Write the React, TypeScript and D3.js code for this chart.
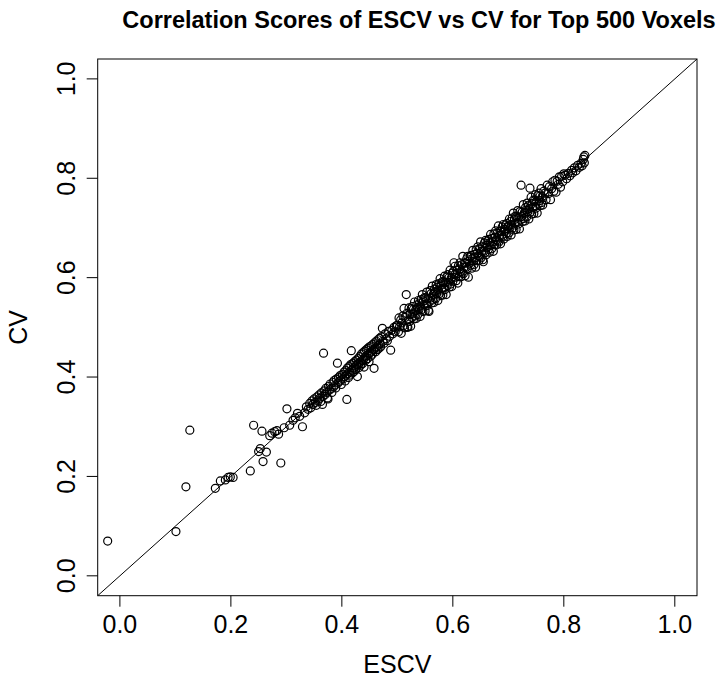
import React from "react";
import * as d3 from "d3";

const title = "Correlation Scores of ESCV vs CV for Top 500 Voxels";
const xLabel = "ESCV";
const yLabel = "CV";
const tickValues = [0, 0.2, 0.4, 0.6, 0.8, 1.0];

const escvLow = [-0.022, 0.101, 0.119, 0.126, 0.172, 0.181, 0.190, 0.195, 0.199, 0.204, 0.235, 0.241, 0.250, 0.253, 0.264, 0.256, 0.258, 0.270, 0.274, 0.279, 0.283, 0.290, 0.301, 0.306, 0.312, 0.320, 0.329, 0.286, 0.296, 0.316, 0.324];
const cvLow = [0.070, 0.089, 0.179, 0.293, 0.176, 0.191, 0.193, 0.198, 0.199, 0.198, 0.211, 0.303, 0.250, 0.256, 0.249, 0.291, 0.230, 0.282, 0.287, 0.290, 0.292, 0.227, 0.336, 0.303, 0.313, 0.327, 0.300, 0.285, 0.298, 0.318, 0.321];

const escvMid = [
  0.333, 0.336, 0.339, 0.342, 0.344, 0.346, 0.348, 0.350, 0.352, 0.354, 0.355, 0.357, 0.359, 0.360, 0.362, 0.363, 0.365, 0.366, 0.367, 0.368, 0.370, 0.371, 0.373, 0.374, 0.375, 0.376, 0.378, 0.379, 0.381, 0.382, 0.384, 0.385, 0.386, 0.388, 0.389, 0.390, 0.392, 0.393, 0.394, 0.395, 0.397, 0.398, 0.399,
  0.401, 0.402, 0.404, 0.405, 0.406, 0.407, 0.408, 0.409, 0.410, 0.411, 0.412, 0.413, 0.414, 0.415, 0.416, 0.417, 0.418, 0.419, 0.420, 0.421, 0.422, 0.423, 0.424, 0.425, 0.426, 0.427, 0.428, 0.429, 0.430, 0.431, 0.432, 0.433, 0.434, 0.435, 0.436, 0.437, 0.438, 0.439, 0.440, 0.441, 0.442, 0.443, 0.444, 0.445, 0.446, 0.447, 0.448, 0.449, 0.450, 0.451, 0.452, 0.453, 0.454, 0.455, 0.456, 0.457, 0.458, 0.459, 0.460, 0.461, 0.462, 0.463, 0.464, 0.465, 0.466, 0.467, 0.468, 0.469, 0.470, 0.471, 0.473, 0.474, 0.476, 0.478, 0.480, 0.482, 0.484, 0.486, 0.488, 0.490, 0.492, 0.494, 0.496, 0.498
];
const cvMid = [
  0.328, 0.340, 0.335, 0.347, 0.338, 0.352, 0.345, 0.356, 0.349, 0.343, 0.360, 0.352, 0.364, 0.357, 0.351, 0.368, 0.345, 0.361, 0.448, 0.372, 0.365, 0.377, 0.369, 0.358, 0.356, 0.381, 0.374, 0.386, 0.377, 0.369, 0.389, 0.380, 0.393, 0.384, 0.378, 0.396, 0.428, 0.388, 0.399, 0.391, 0.403, 0.394, 0.385,
  0.405, 0.396, 0.410, 0.401, 0.392, 0.413, 0.404, 0.355, 0.418, 0.407, 0.399, 0.421, 0.410, 0.404, 0.425, 0.453, 0.414, 0.408, 0.428, 0.418, 0.411, 0.431, 0.420, 0.415, 0.434, 0.424, 0.401, 0.437, 0.427, 0.419, 0.441, 0.430, 0.424, 0.446, 0.433, 0.427, 0.449, 0.436, 0.420, 0.452, 0.440, 0.434, 0.455, 0.443, 0.437, 0.458, 0.446, 0.431, 0.461, 0.449, 0.442, 0.463, 0.452, 0.446, 0.466, 0.455, 0.4175, 0.469, 0.458, 0.451, 0.472, 0.461, 0.455, 0.475, 0.464, 0.458, 0.478, 0.467, 0.461, 0.481, 0.498, 0.472, 0.468, 0.487, 0.477, 0.473, 0.492, 0.482, 0.454, 0.494, 0.487, 0.500, 0.491, 0.503
];

const escvUpper = [
  0.500, 0.502, 0.503, 0.504, 0.506, 0.507, 0.508, 0.510, 0.511, 0.512, 0.513, 0.514, 0.516, 0.517, 0.518, 0.519, 0.520, 0.521, 0.522, 0.523, 0.524, 0.525, 0.526, 0.527, 0.528, 0.529, 0.530, 0.531, 0.532, 0.533, 0.534, 0.535, 0.536, 0.537, 0.538, 0.539, 0.540, 0.541, 0.542, 0.543, 0.544, 0.545, 0.546, 0.547, 0.548, 0.549, 0.550, 0.551, 0.552, 0.553, 0.554, 0.555, 0.556, 0.557, 0.558, 0.559, 0.560, 0.561, 0.562, 0.563, 0.564, 0.565, 0.566, 0.567, 0.568, 0.569, 0.570, 0.571, 0.572, 0.573, 0.574, 0.575, 0.576, 0.577, 0.578, 0.579, 0.580, 0.581, 0.582, 0.583, 0.584, 0.585, 0.586, 0.587, 0.588, 0.589, 0.590, 0.591, 0.592, 0.593, 0.594, 0.595, 0.596, 0.597, 0.598, 0.599,
  0.600, 0.601, 0.602, 0.603, 0.604, 0.605, 0.606, 0.607, 0.608, 0.609, 0.610, 0.611, 0.612, 0.613, 0.614, 0.615, 0.616, 0.617, 0.618, 0.619, 0.620, 0.621, 0.622, 0.623, 0.624, 0.625, 0.626, 0.627, 0.628, 0.629, 0.630, 0.631, 0.632, 0.633, 0.634, 0.635, 0.636, 0.637, 0.638, 0.639, 0.640, 0.641, 0.642, 0.643, 0.644, 0.645, 0.646, 0.647, 0.648, 0.649, 0.650, 0.651, 0.652, 0.653, 0.654, 0.655, 0.656, 0.657, 0.658, 0.659, 0.660, 0.661, 0.662, 0.663, 0.664, 0.665, 0.666, 0.667, 0.668, 0.669, 0.670, 0.671, 0.672, 0.673, 0.674, 0.675, 0.676, 0.677, 0.678, 0.679, 0.680, 0.681, 0.682, 0.683, 0.684, 0.685, 0.686, 0.687, 0.688, 0.689, 0.690, 0.691, 0.692, 0.693, 0.694, 0.695, 0.696, 0.697, 0.698, 0.699
];
const cvUpper = [
  0.504, 0.491, 0.519, 0.501, 0.515, 0.488, 0.509, 0.523, 0.503, 0.538, 0.499, 0.520, 0.566, 0.528, 0.501, 0.500, 0.515, 0.539, 0.512, 0.526, 0.502, 0.537, 0.520, 0.542, 0.527, 0.536, 0.517, 0.551, 0.523, 0.535, 0.518, 0.545, 0.540, 0.526, 0.554, 0.536, 0.549, 0.522, 0.543, 0.556, 0.536, 0.566, 0.532, 0.553, 0.546, 0.560, 0.533, 0.559, 0.547, 0.571, 0.544, 0.558, 0.534, 0.532, 0.552, 0.574, 0.559, 0.568, 0.549, 0.583, 0.555, 0.567, 0.550, 0.577, 0.572, 0.558, 0.586, 0.568, 0.581, 0.554, 0.575, 0.588, 0.568, 0.598, 0.564, 0.585, 0.578, 0.592, 0.565, 0.591, 0.579, 0.603, 0.576, 0.590, 0.566, 0.601, 0.584, 0.606, 0.591, 0.600, 0.581, 0.615, 0.587, 0.599, 0.582, 0.609,
  0.593, 0.613, 0.630, 0.606, 0.623, 0.601, 0.594, 0.615, 0.608, 0.589, 0.624, 0.602, 0.617, 0.630, 0.612, 0.602, 0.626, 0.611, 0.643, 0.608, 0.621, 0.630, 0.604, 0.629, 0.621, 0.638, 0.618, 0.643, 0.601, 0.633, 0.629, 0.642, 0.625, 0.645, 0.619, 0.638, 0.655, 0.633, 0.626, 0.647, 0.640, 0.621, 0.656, 0.634, 0.649, 0.662, 0.644, 0.634, 0.658, 0.643, 0.672, 0.640, 0.653, 0.662, 0.636, 0.632, 0.653, 0.670, 0.650, 0.675, 0.646, 0.665, 0.661, 0.674, 0.657, 0.677, 0.651, 0.670, 0.687, 0.665, 0.658, 0.679, 0.672, 0.653, 0.688, 0.666, 0.681, 0.694, 0.676, 0.666, 0.690, 0.675, 0.704, 0.672, 0.685, 0.694, 0.668, 0.693, 0.685, 0.702, 0.682, 0.707, 0.678, 0.697, 0.693, 0.706, 0.689, 0.709, 0.683, 0.702
];

const escvTop = [
  0.700, 0.701, 0.702, 0.703, 0.704, 0.705, 0.706, 0.707, 0.708, 0.709, 0.710, 0.711, 0.712, 0.713, 0.714, 0.715, 0.716, 0.717, 0.718, 0.719, 0.720, 0.721, 0.722, 0.723, 0.724, 0.725, 0.726, 0.727, 0.728, 0.729, 0.730, 0.731, 0.732, 0.733, 0.734, 0.735, 0.736, 0.737, 0.738, 0.739, 0.740, 0.741, 0.742, 0.743, 0.744, 0.745, 0.746, 0.747, 0.748, 0.749, 0.750, 0.751, 0.752, 0.753, 0.754, 0.755, 0.756, 0.757, 0.758, 0.759, 0.760, 0.761, 0.762, 0.764, 0.766, 0.768, 0.770, 0.772, 0.774, 0.776, 0.778, 0.780, 0.782, 0.784, 0.786, 0.788, 0.790, 0.792, 0.794, 0.796, 0.798, 0.800,
  0.802, 0.805, 0.808, 0.811, 0.814, 0.816, 0.819, 0.822, 0.825, 0.828, 0.831, 0.833, 0.835, 0.836, 0.838, 0.837
];
const cvTop = [
  0.704, 0.690, 0.718, 0.700, 0.713, 0.686, 0.707, 0.720, 0.700, 0.730, 0.696, 0.717, 0.710, 0.724, 0.697, 0.723, 0.711, 0.735, 0.708, 0.722, 0.698, 0.733, 0.716, 0.786, 0.723, 0.732, 0.713, 0.747, 0.719, 0.731, 0.714, 0.741, 0.736, 0.722, 0.750, 0.732, 0.745, 0.718, 0.739, 0.780, 0.732, 0.762, 0.728, 0.749, 0.742, 0.756, 0.729, 0.755, 0.743, 0.767, 0.740, 0.754, 0.730, 0.765, 0.748, 0.770, 0.755, 0.764, 0.745, 0.779, 0.751, 0.763, 0.746, 0.774, 0.770, 0.757, 0.786, 0.769, 0.783, 0.757, 0.779, 0.793, 0.774, 0.796, 0.772, 0.794, 0.788, 0.803, 0.782, 0.804, 0.793, 0.809,
  0.806, 0.799, 0.810, 0.805, 0.816, 0.811, 0.821, 0.815, 0.826, 0.822, 0.830, 0.825, 0.838, 0.843, 0.846, 0.831
];

const escv = [...escvLow, ...escvMid, ...escvUpper, ...escvTop];
const cv = [...cvLow, ...cvMid, ...cvUpper, ...cvTop];

const W = 728;
const H = 680;
const left = 97.7;
const right = 697;
const top = 59;
const bottom = 595.7;
const FONT = "'Liberation Sans', Arial, Helvetica, sans-serif";

export default function App() {
  const x = d3.scaleLinear().domain([-0.04, 1.04]).range([left, right]);
  const y = d3.scaleLinear().domain([-0.04, 1.04]).range([bottom, top]);
  const fmt = d3.format(".1f");
  const n = Math.min(escv.length, cv.length);
  const pts = d3.range(n).map((i) => ({ a: escv[i], b: cv[i] }));
  const lineGen = d3.line<number>().x((d) => x(d)).y((d) => y(d));

  return (
    <svg
      width={W}
      height={H}
      style={{ position: "absolute", left: 0, top: 0, background: "#fff" }}
      fontFamily={FONT}
    >
      <rect x={0} y={0} width={W} height={H} fill="#fff" />
      <defs>
        <clipPath id="plotClip">
          <rect x={left} y={top} width={right - left} height={bottom - top} />
        </clipPath>
      </defs>
      <text x={419} y={28} textAnchor="middle" fontWeight="bold" fontSize={23.5} fill="#000">
        {title}
      </text>
      <path d={lineGen([-0.04, 1.04]) || ""} stroke="#000" strokeWidth={1} fill="none" clipPath="url(#plotClip)" />
      <g clipPath="url(#plotClip)">
        {pts.map((p, i) => (
          <circle key={i} cx={x(p.a)} cy={y(p.b)} r={4} fill="none" stroke="#000" strokeWidth={1.2} />
        ))}
      </g>
      <rect x={left} y={top} width={right - left} height={bottom - top} fill="none" stroke="#000" strokeWidth={1} />
      {tickValues.map((t) => (
        <g key={"x" + t}>
          <line x1={x(t)} x2={x(t)} y1={bottom} y2={bottom + 11} stroke="#000" strokeWidth={1} />
          <text x={x(t)} y={633} textAnchor="middle" fontSize={25} fill="#000">
            {fmt(t)}
          </text>
        </g>
      ))}
      {tickValues.map((t) => (
        <g key={"y" + t}>
          <line x1={left - 11} x2={left} y1={y(t)} y2={y(t)} stroke="#000" strokeWidth={1} />
          <text transform={`translate(75,${y(t)}) rotate(-90)`} textAnchor="middle" fontSize={25} fill="#000">
            {fmt(t)}
          </text>
        </g>
      ))}
      <text x={(left + right) / 2} y={673} textAnchor="middle" fontSize={25} fill="#000">
        {xLabel}
      </text>
      <text transform={`translate(27,${(top + bottom) / 2}) rotate(-90)`} textAnchor="middle" fontSize={25} fill="#000">
        {yLabel}
      </text>
    </svg>
  );
}
